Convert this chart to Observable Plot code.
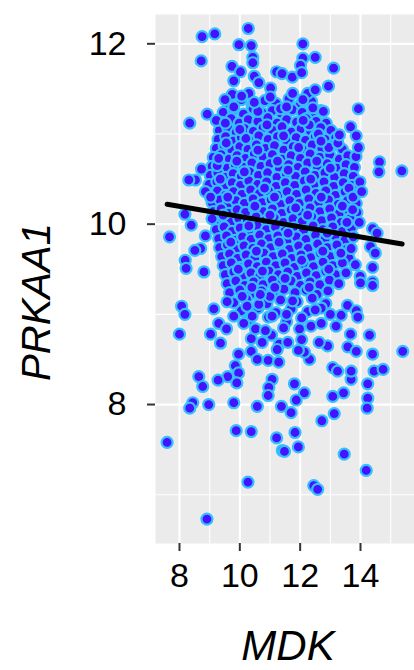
<!DOCTYPE html>
<html><head><meta charset="utf-8">
<script src="https://cdn.jsdelivr.net/npm/d3@7"></script>
<script src="https://cdn.jsdelivr.net/npm/@observablehq/plot@0.6"></script>
<style>body{margin:0;background:#fff}svg{display:block}</style>
</head><body><div id="chart"></div>
<script>
const xTicks = [8, 10, 12, 14];
const xMinor = [9, 11, 13, 15];
const yTicks = [8, 10, 12];
const yMinor = [7, 9, 11];
const xTitle = "MDK";
const yTitle = "PRKAA1";
const fitMDK = [7.59, 15.38];
const fitPRKAA1 = [10.22, 9.78];

const topPoints = [[8.75,12.08],[9.17,12.11],[10.28,12.17],[8.72,11.81],[9.97,11.99],[10.38,11.98],[10.43,11.85],[10.43,11.79],[9.74,11.75],[10.02,11.69],[9.8,11.59],[10.48,11.64],[10.63,11.57],[11.22,11.69],[11.4,11.67],[11.02,11.51],[11.01,11.41],[9.51,11.38],[10.06,11.42],[10.48,11.35],[12.09,12.0],[12.09,11.84],[12.01,11.76],[12.5,11.85],[13.11,11.73],[11.74,11.63],[12.05,11.68],[12.5,11.49],[12.94,11.53],[12.09,11.38],[12.42,11.29],[12.77,11.25],[11.55,11.3]];

const rightPoints = [[13.93,11.28],[13.67,11.08],[13.86,10.98],[13.3,10.99],[12.69,10.92],[13.93,10.85],[14.63,10.69],[14.61,10.58],[15.37,10.59],[14.04,10.36],[13.96,10.02],[14.4,9.95],[14.55,9.9],[14.33,9.75],[14.49,9.68],[13.83,9.55],[14.4,9.52],[13.52,9.46],[13.99,9.42],[14.4,9.36],[13.74,10.16],[13.69,9.73],[14.4,9.32],[14.0,9.35]];

const leftPoints = [[8.34,11.12],[8.92,11.22],[9.22,11.15],[9.52,11.12],[10.0,11.05],[8.73,10.61],[8.53,10.49],[8.31,10.49],[8.86,10.36],[9.03,10.3],[9.08,10.06],[8.18,10.11],[8.39,9.99],[7.67,9.86],[8.86,9.87],[8.7,9.73],[8.51,9.71],[8.19,9.6],[8.22,9.51],[8.81,9.47],[9.3,10.73]];

const lowerPoints = [[8.07,9.09],[8.18,9.0],[8.0,8.78],[9.03,8.78],[9.36,8.68],[9.14,9.06],[9.3,8.9],[9.56,8.84],[9.8,8.98],[10.13,8.9],[9.58,9.14],[9.96,8.56],[10.38,8.59],[9.85,8.43],[9.96,8.35],[9.9,8.24],[9.6,8.31],[9.28,8.27],[8.64,8.31],[8.77,8.2],[8.44,8.02],[8.34,7.96],[8.97,8.0],[9.8,8.02],[10.58,7.98],[10.58,8.5],[10.94,8.49],[11.29,8.47],[11.07,8.28],[10.96,8.19],[10.94,8.1],[11.38,7.98],[10.38,8.73],[11.05,8.77],[11.31,8.67],[11.24,8.61],[10.52,8.84],[11.07,8.98],[10.41,8.98],[10.24,9.09],[10.63,9.11],[10.68,9.22],[10.08,9.2],[11.16,9.3],[10.74,8.69],[10.85,8.82],[11.45,8.85],[11.55,9.0],
[14.3,8.77],[15.4,8.59],[14.4,8.56],[14.45,8.37],[14.75,8.39],[14.24,8.23],[14.24,8.07],[14.22,7.96],[13.69,8.28],[13.69,8.37],[13.08,8.41],[13.24,8.37],[13.08,8.09],[13.44,8.13],[13.13,7.9],[11.81,8.23],[12.14,8.13],[11.87,8.05],[11.7,7.91],[13.58,8.64],[13.86,8.59],[13.67,8.78],[13.57,9.1],[13.86,9.04],[13.91,8.97],[13.36,8.99],[13.19,8.87],[12.91,8.65],[12.63,8.69],[12.31,8.5],[12.14,8.58],[11.94,8.6],[11.59,8.69],[11.98,8.84],[12.36,8.87],[12.05,8.72],[12.7,8.9],[13.0,9.0],[12.5,9.05]];

const bottomPoints = [[7.59,7.58],[9.88,7.71],[10.38,7.7],[10.27,7.14],[8.91,6.73],[11.22,7.63],[11.41,7.49],[11.83,7.69],[11.94,7.53],[11.48,7.48],[12.72,7.82],[13.46,7.45],[14.19,7.27],[12.45,7.1],[12.58,7.06]];

const coreUpper = [[9.62,11.33],[10.05,11.38],[10.41,11.31],[10.83,11.37],[11.2,11.34],[11.63,11.39],[12.0,11.32],[12.38,11.36],
[9.45,11.24],[9.78,11.27],[10.12,11.22],[10.44,11.28],[10.76,11.23],[11.08,11.26],[11.4,11.21],[11.74,11.27],[12.07,11.24],[12.4,11.22],[12.68,11.26],
[9.4,11.13],[9.71,11.17],[9.98,11.12],[10.28,11.16],[10.6,11.14],[10.93,11.18],[11.24,11.12],[11.55,11.16],[11.88,11.13],[12.2,11.17],[12.53,11.14],[12.86,11.12],
[9.32,11.04],[9.6,11.07],[9.88,11.02],[10.16,11.06],[10.45,11.03],[10.77,11.07],[11.09,11.04],[11.4,11.08],[11.71,11.02],[12.03,11.06],[12.35,11.03],[12.68,11.07],[13.02,11.04],
[9.28,10.94],[9.53,10.97],[9.79,10.92],[10.05,10.96],[10.34,10.93],[10.63,10.98],[10.94,10.94],[11.25,10.97],[11.56,10.92],[11.87,10.96],[12.18,10.93],[12.5,10.97],[12.83,10.94],[13.18,10.96],
[9.22,10.84],[9.48,10.87],[9.74,10.82],[10.0,10.86],[10.27,10.83],[10.55,10.88],[10.85,10.84],[11.15,10.87],[11.46,10.82],[11.77,10.86],[12.08,10.83],[12.4,10.88],[12.72,10.84],[13.05,10.87],[13.4,10.83],
[9.12,10.74],[9.38,10.77],[9.64,10.72],[9.91,10.76],[10.19,10.73],[10.48,10.78],[10.78,10.74],[11.08,10.77],[11.39,10.72],[11.7,10.76],[12.01,10.73],[12.33,10.78],[12.65,10.74],[12.98,10.77],[13.3,10.72],[13.58,10.76]];

const coreMiddle = [[9.08,10.64],[9.33,10.67],[9.58,10.62],[9.85,10.66],[10.12,10.63],[10.4,10.68],[10.7,10.64],[11.0,10.67],[11.31,10.62],[11.62,10.66],[11.93,10.63],[12.25,10.68],[12.57,10.64],[12.9,10.67],[13.22,10.62],[13.52,10.66],[13.8,10.63],
[9.02,10.54],[9.27,10.57],[9.52,10.52],[9.78,10.56],[10.05,10.53],[10.33,10.58],[10.62,10.54],[10.92,10.57],[11.23,10.52],[11.54,10.56],[11.85,10.53],[12.17,10.58],[12.49,10.54],[12.82,10.57],[13.14,10.52],[13.46,10.56],[13.76,10.53],
[8.98,10.44],[9.24,10.47],[9.49,10.42],[9.75,10.46],[10.02,10.43],[10.3,10.48],[10.59,10.44],[10.89,10.47],[11.2,10.42],[11.51,10.46],[11.82,10.43],[12.14,10.48],[12.46,10.44],[12.79,10.47],[13.11,10.42],[13.43,10.46],[13.73,10.43],[13.98,10.47],
[9.0,10.34],[9.26,10.37],[9.52,10.32],[9.79,10.36],[10.07,10.33],[10.36,10.38],[10.65,10.34],[10.95,10.37],[11.26,10.32],[11.57,10.36],[11.88,10.33],[12.2,10.38],[12.52,10.34],[12.85,10.37],[13.17,10.32],[13.49,10.36],[13.8,10.33],
[9.08,10.24],[9.34,10.27],[9.6,10.22],[9.87,10.26],[10.15,10.23],[10.44,10.28],[10.74,10.24],[11.04,10.27],[11.35,10.22],[11.66,10.26],[11.97,10.23],[12.29,10.28],[12.61,10.24],[12.94,10.27],[13.26,10.22],[13.57,10.26],[13.86,10.23],
[9.12,10.14],[9.38,10.17],[9.64,10.12],[9.91,10.16],[10.19,10.13],[10.48,10.18],[10.78,10.14],[11.08,10.17],[11.39,10.12],[11.7,10.16],[12.01,10.13],[12.33,10.18],[12.65,10.14],[12.98,10.17],[13.3,10.12],[13.6,10.16],[13.88,10.13],
[9.18,10.04],[9.44,10.07],[9.7,10.02],[9.97,10.06],[10.25,10.03],[10.54,10.08],[10.84,10.04],[11.14,10.07],[11.45,10.02],[11.76,10.06],[12.07,10.03],[12.39,10.08],[12.71,10.04],[13.04,10.07],[13.36,10.02],[13.66,10.06]];

const coreLower = [[9.22,9.94],[9.48,9.97],[9.74,9.92],[10.01,9.96],[10.29,9.93],[10.58,9.98],[10.88,9.94],[11.18,9.97],[11.49,9.92],[11.8,9.96],[12.11,9.93],[12.43,9.98],[12.75,9.94],[13.08,9.97],[13.4,9.92],[13.7,9.96],
[9.3,9.84],[9.56,9.87],[9.82,9.82],[10.09,9.86],[10.37,9.83],[10.66,9.88],[10.96,9.84],[11.26,9.87],[11.57,9.82],[11.88,9.86],[12.19,9.83],[12.51,9.88],[12.83,9.84],[13.16,9.87],[13.48,9.82],[13.76,9.86],
[9.33,9.74],[9.59,9.77],[9.86,9.72],[10.14,9.76],[10.43,9.73],[10.72,9.78],[11.02,9.74],[11.33,9.77],[11.64,9.72],[11.95,9.76],[12.26,9.73],[12.58,9.78],[12.9,9.74],[13.22,9.77],[13.54,9.72],
[9.4,9.64],[9.66,9.67],[9.93,9.62],[10.21,9.66],[10.5,9.63],[10.8,9.68],[11.1,9.64],[11.41,9.67],[11.72,9.62],[12.03,9.66],[12.35,9.63],[12.67,9.68],[12.99,9.64],[13.31,9.67],[13.62,9.62],
[9.45,9.54],[9.72,9.57],[10.0,9.52],[10.29,9.56],[10.58,9.53],[10.88,9.58],[11.19,9.54],[11.5,9.57],[11.81,9.52],[12.12,9.56],[12.44,9.53],[12.76,9.58],[13.08,9.54],[13.4,9.57],
[9.52,9.44],[9.8,9.47],[10.08,9.42],[10.37,9.46],[10.67,9.43],[10.97,9.48],[11.28,9.44],[11.59,9.47],[11.9,9.42],[12.21,9.46],[12.53,9.43],[12.85,9.48],[13.17,9.44],
[9.58,9.34],[9.87,9.37],[10.16,9.32],[10.46,9.36],[10.77,9.33],[11.08,9.38],[11.39,9.34],[11.7,9.37],[12.01,9.32],[12.33,9.36],[12.65,9.33],[12.97,9.38],[13.28,9.34],
[9.66,9.24],[10.0,9.27],[10.35,9.22],[10.72,9.26],[11.1,9.23],[11.46,9.28],[11.83,9.24],[12.2,9.27],[12.56,9.22],[12.92,9.26],
[9.8,9.13],[10.22,9.17],[10.9,9.12],[11.35,9.16],[11.9,9.14],[12.4,9.18],[12.85,9.12],
[10.05,9.04],[10.6,9.07],[11.2,9.02],[11.7,9.06],[12.25,9.03],[12.7,9.07],
[10.3,8.94],[10.95,8.97],[11.55,8.92],[12.05,8.96]];

const coreExtra = [[9.55,10.9],[10.2,10.95],[10.9,11.1],[11.45,10.98],[12.3,11.1],[12.95,10.85],[9.9,10.7],[10.6,10.82],[11.25,10.7],[11.95,10.85],[12.55,10.7],[13.25,10.9],[9.35,10.5],[10.15,10.58],[10.82,10.4],[11.6,10.6],[12.35,10.5],[13.0,10.62],[13.62,10.4],[9.6,10.3],[10.5,10.2],[11.15,10.3],[11.85,10.18],[12.7,10.3],[13.4,10.2],[9.45,10.1],[10.3,9.98],[11.0,10.1],[11.6,9.9],[12.25,10.1],[12.9,9.9],[13.55,10.02],[9.7,9.8],[10.55,9.7],[11.3,9.8],[12.05,9.6],[12.75,9.7],[13.35,9.68],[9.95,9.5],[10.75,9.48],[11.5,9.4],[12.3,9.3],[12.95,9.5],[10.4,9.3],[11.0,9.2],[11.75,9.15],[9.8,11.3],[10.6,11.25],[11.35,11.28],[12.1,11.15],[12.6,11.0],[10.3,11.45],[11.75,11.45],[9.25,10.65],[13.75,10.3],[13.85,10.75],[9.75,11.44],[12.25,11.45]];

const points = [...coreUpper, ...coreMiddle, ...coreLower, ...coreExtra, ...topPoints, ...rightPoints, ...leftPoints, ...lowerPoints, ...bottomPoints]
  .map(([mdk, prkaa1]) => ({mdk, prkaa1}));
const fit = fitMDK.map((mdk, i) => ({mdk, prkaa1: fitPRKAA1[i]}));

const font = "'Liberation Sans', Arial, Helvetica, sans-serif";
const plot = Plot.plot({
  width: 414,
  height: 670,
  marginLeft: 155,
  marginRight: 0,
  marginTop: 14,
  marginBottom: 127,
  style: {fontFamily: font, background: "#fff", overflow: "visible"},
  x: {domain: [7.205, 15.79]},
  y: {domain: [6.459, 12.325]},
  marks: [
    Plot.frame({fill: "#ebebeb", stroke: "none"}),
    Plot.ruleX(xMinor, {stroke: "#fff", strokeWidth: 1.1}),
    Plot.ruleY(yMinor, {stroke: "#fff", strokeWidth: 1.1}),
    Plot.ruleX(xTicks, {stroke: "#fff", strokeWidth: 2.2}),
    Plot.ruleY(yTicks, {stroke: "#fff", strokeWidth: 2.2}),
    Plot.axisX(xTicks, {anchor: "bottom", tickSize: 8, tickPadding: 11, fontSize: 34, stroke: "#333", strokeWidth: 2, fill: "#000", label: null, tickFormat: d => String(d)}),
    Plot.axisY(yTicks, {anchor: "left", tickSize: 8, tickPadding: 21, fontSize: 34, stroke: "#333", strokeWidth: 2, fill: "#000", label: null, tickFormat: d => String(d)}),
    Plot.dot(points, {x: "mdk", y: "prkaa1", r: 5.5, fill: "#4514ff", stroke: "#35bfff", strokeWidth: 2.2}),
    Plot.line(fit, {x: "mdk", y: "prkaa1", stroke: "#000", strokeWidth: 5})
  ]
});

const svg = d3.select(plot);
svg.append("text")
  .attr("x", 288).attr("y", 660)
  .attr("text-anchor", "middle")
  .attr("font-family", font).attr("font-size", 42).attr("font-style", "italic")
  .attr("fill", "#000")
  .text(xTitle);
svg.append("text")
  .attr("transform", "translate(50,302) rotate(-90)")
  .attr("text-anchor", "middle")
  .attr("font-family", font).attr("font-size", 40).attr("font-style", "italic")
  .attr("fill", "#000")
  .text(yTitle);

document.getElementById("chart").appendChild(plot);
</script>
</body></html>
